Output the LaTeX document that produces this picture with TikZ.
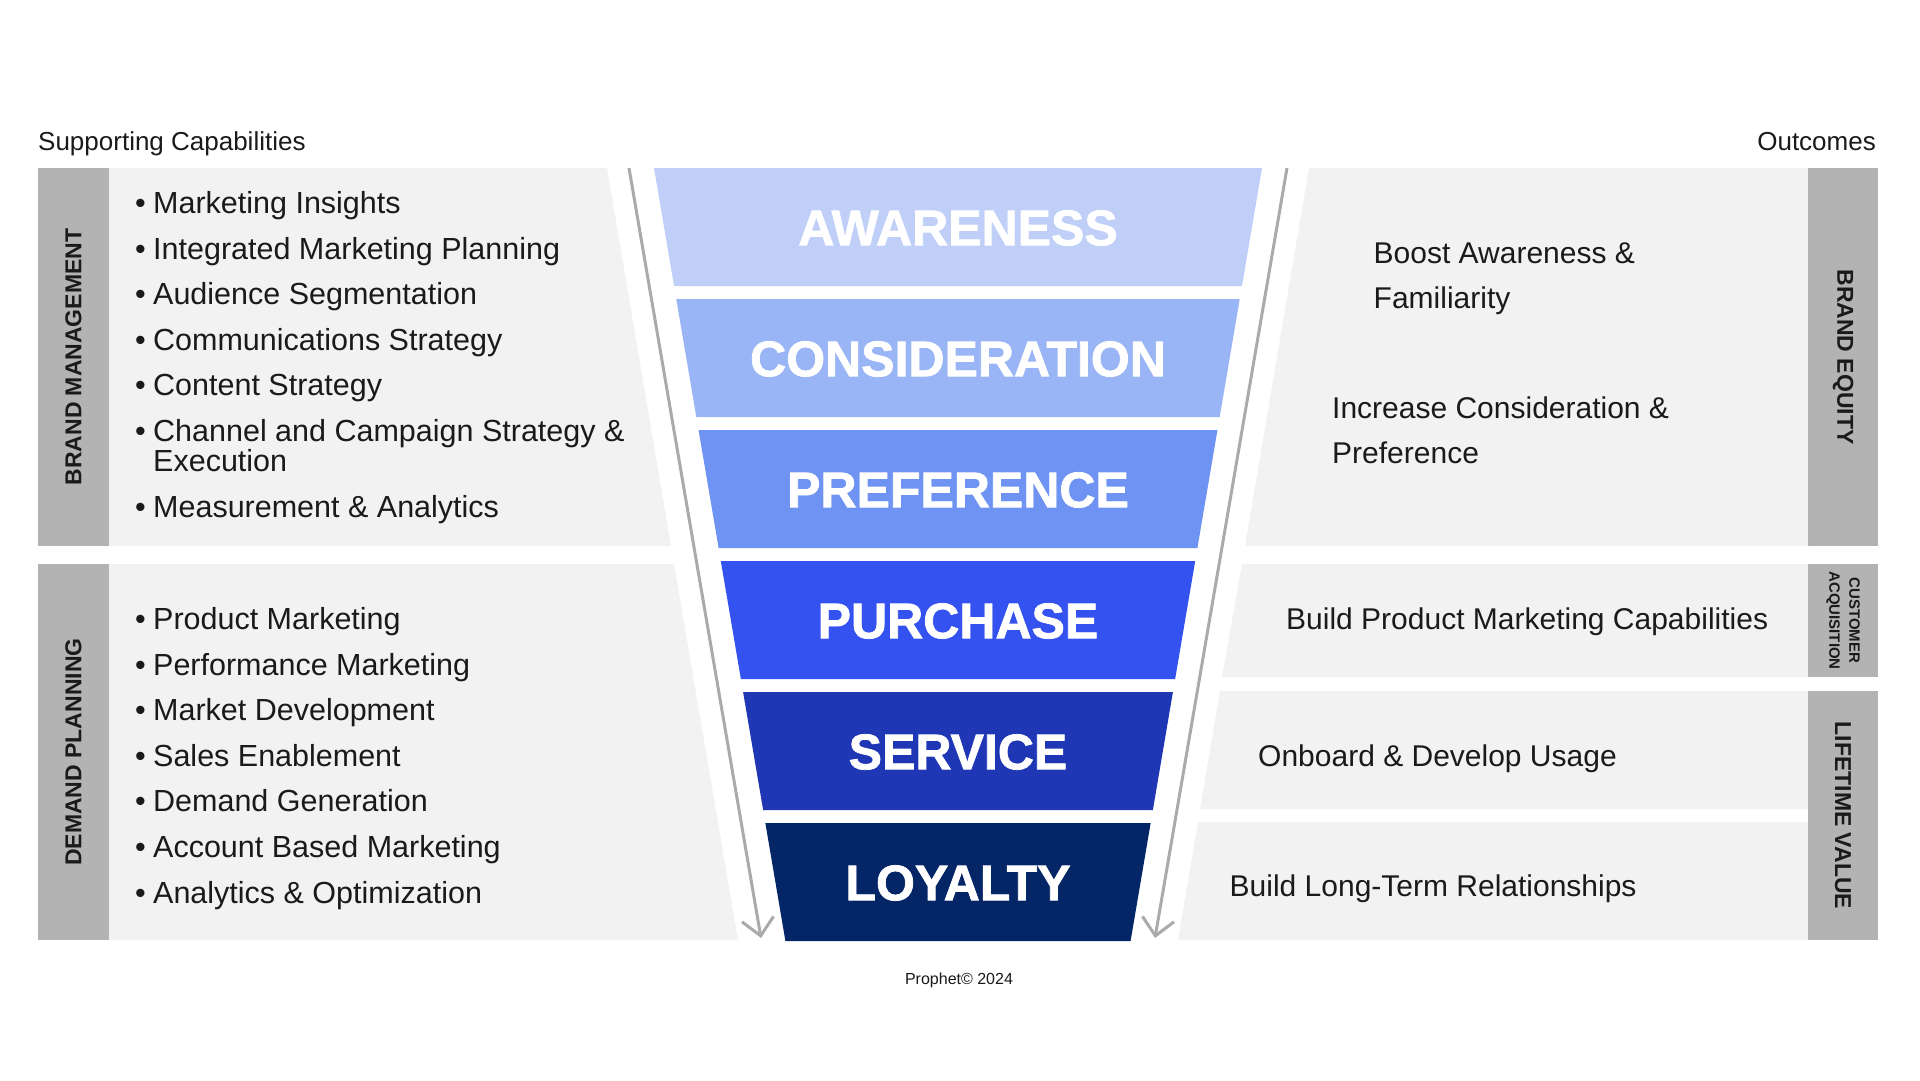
\documentclass[tikz,border=0pt]{standalone}
\usepackage{fontspec}
\setmainfont{Liberation Sans}
\newfontfamily\heavyfont[FakeBold=1.5]{Liberation Sans Bold}
\usetikzlibrary{arrows.meta}
\definecolor{aware}{HTML}{BFCFF8}
\definecolor{consid}{HTML}{99B5F5}
\definecolor{prefer}{HTML}{6E93F2}
\definecolor{purch}{HTML}{3452F0}
\definecolor{serv}{HTML}{1F36B5}
\definecolor{loyal}{HTML}{042566}
\definecolor{panelgray}{HTML}{F2F2F2}
\definecolor{sidegray}{HTML}{B3B3B3}
\definecolor{linegray}{HTML}{AAAAAA}
\definecolor{inkdark}{HTML}{1A1A1A}
\newcommand{\itm}[1]{\makebox[15pt][l]{\hspace*{-3pt}\textbullet}#1}

\begin{document}
\begin{tikzpicture}[x=1pt, y=-1pt,
  panel/.style={fill=panelgray},
  side/.style={fill=sidegray},
  sidetext/.style={inner sep=0, text=inkdark, font=\bfseries\fontsize{23}{23}\selectfont},
  stage/.style={inner sep=0, text=white, font=\heavyfont\fontsize{50}{50}\selectfont},
  itemlist/.style={inner sep=0, anchor=base west, align=left, text=inkdark, font=\fontsize{30.5}{45.6}\selectfont},
  outcome/.style={inner sep=0, anchor=base west, align=left, text=inkdark, font=\fontsize{30}{45}\selectfont},
  heading/.style={inner sep=0, text=inkdark, font=\fontsize{26}{26}\selectfont},
  flowline/.style={draw=linegray, line width=3pt, -{Straight Barb[length=17pt, width=32pt]}}]
\useasboundingbox (0,0) rectangle (1920,1080);
\fill[white] (0,0) rectangle (1920,1080);

\node[heading, anchor=base west] (supp) at (38,150) {Supporting Capabilities};
\node[heading, anchor=base east] (outc) at (1876,150) {Outcomes};

% left panels
\fill[side] (38,168) rectangle (109,546);
\fill[panel] (109,168) -- (607,168) -- (671,546) -- (109,546) -- cycle;
\fill[side] (38,564) rectangle (109,940);
\fill[panel] (109,564) -- (674,564) -- (738,940) -- (109,940) -- cycle;

% right panels
\fill[panel] (1309,168) -- (1808,168) -- (1808,546) -- (1245,546) -- cycle;
\fill[side] (1808,168) rectangle (1878,546);
\fill[panel] (1242,564) -- (1808,564) -- (1808,677) -- (1222,677) -- cycle;
\fill[side] (1808,564) rectangle (1878,677);
\fill[panel] (1220,691) -- (1808,691) -- (1808,809) -- (1200,809) -- cycle;
\fill[panel] (1198,822) -- (1808,822) -- (1808,940) -- (1178,940) -- cycle;
\fill[side] (1808,691) rectangle (1878,940);

% funnel
\foreach \lbl/\col [count=\i from 0] in {AWARENESS/aware, CONSIDERATION/consid, PREFERENCE/prefer, PURCHASE/purch, SERVICE/serv, LOYALTY/loyal}{
  \pgfmathsetmacro{\yt}{168+131*\i}
  \pgfmathsetmacro{\yb}{\yt+118}
  \pgfmathsetmacro{\wt}{304-0.17*(\yt-168)}
  \pgfmathsetmacro{\wb}{304-0.17*(\yb-168)}
  \fill[\col] (958-\wt,\yt) -- (958+\wt,\yt) -- (958+\wb,\yb) -- (958-\wb,\yb) -- cycle;
  \node[stage] (stage\i) at (958,\yt+60) {\lbl};
}

\coordinate (ltop) at (629,168);
\coordinate (lend) at (761,938);
\coordinate (rtop) at (1287,168);
\coordinate (rend) at (1155,938);
\draw[flowline] (ltop) -- (lend);
\draw[flowline] (rtop) -- (rend);

\node[sidetext, rotate=90] (brandmgmt) at (73.5,357) {BRAND MANAGEMENT};
\node[sidetext, rotate=90] (demandpl) at (73.5,752) {DEMAND PLANNING};
\node[sidetext, rotate=-90] (brandeq) at (1843,357) {BRAND EQUITY};
\node[sidetext, rotate=-90, align=center, font=\bfseries\fontsize{15}{20}\selectfont] (custacq) at (1843,620.5) {CUSTOMER\\ACQUISITION};
\node[sidetext, rotate=-90] (lifeval) at (1843,815.5) {LIFETIME VALUE};

\node[itemlist] (bmlist) at (138,517) {\itm{Marketing Insights}\\ \itm{Integrated Marketing Planning}\\ \itm{Audience Segmentation}\\ \itm{Communications Strategy}\\ \itm{Content Strategy}\\ \itm{Channel and Campaign Strategy \&}\\[-15.6pt] \hspace*{15pt}Execution\\ \itm{Measurement \& Analytics}};
\node[itemlist] (dplist) at (138,903) {\itm{Product Marketing}\\ \itm{Performance Marketing}\\ \itm{Market Development}\\ \itm{Sales Enablement}\\ \itm{Demand Generation}\\ \itm{Account Based Marketing}\\ \itm{Analytics \& Optimization}};

\node[outcome] (boost) at (1373.5,308) {Boost Awareness \&\\Familiarity};
\node[outcome] (incr) at (1332,463) {Increase Consideration \&\\Preference};
\node[outcome] (bpmc) at (1286,629) {Build Product Marketing Capabilities};
\node[outcome] (onbd) at (1258,766) {Onboard \& Develop Usage};
\node[outcome] (bltr) at (1229.5,896) {Build Long-Term Relationships};

\node[inner sep=0, anchor=base, text=inkdark, font=\fontsize{16}{16}\selectfont] (copy) at (959,984) {Prophet© 2024};
\end{tikzpicture}
\end{document}
